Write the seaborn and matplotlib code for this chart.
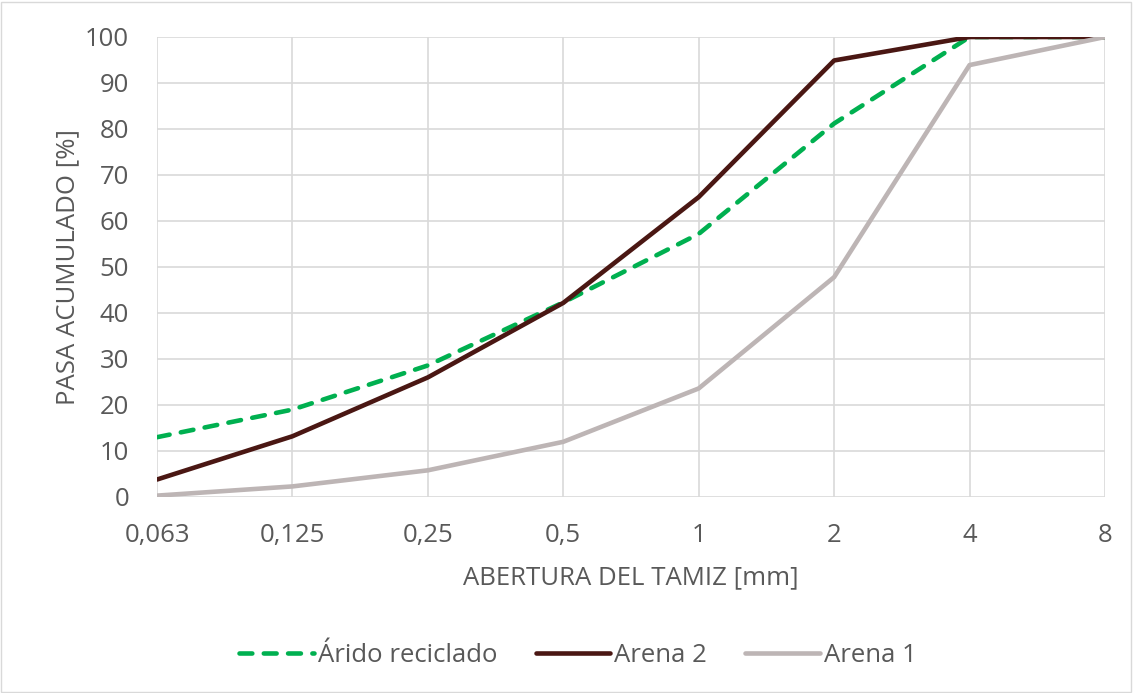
import matplotlib
matplotlib.use("Agg")
import matplotlib.pyplot as plt
import seaborn as sns
import pandas as pd
from matplotlib.patches import Rectangle

sieve_labels = ["0,063", "0,125", "0,25", "0,5", "1", "2", "4", "8"]
arido_reciclado = [13.0, 19.0, 28.6, 42.3, 57.2, 81.2, 100, 100]
arena_2 = [3.8, 13.2, 26.0, 42.2, 65.2, 94.9, 100, 100]
arena_1 = [0.3, 2.3, 5.8, 12.0, 23.6, 47.8, 93.9, 100]
series_names = ["Árido reciclado", "Arena 2", "Arena 1"]
y_ticks = list(range(0, 101, 10))

sns.set_theme(style="white")
plt.rcParams['font.family'] = ['Open Sans', 'DejaVu Sans']

FS = 18.5
TXT = "#595959"

fig = plt.figure(figsize=(11.33, 6.93), dpi=100)
ax = fig.add_axes([157/1133, 1-497/693, (1105-157)/1133, (497-37)/693])

pos = list(range(len(sieve_labels)))
colors = {"Árido reciclado": "#00b050", "Arena 2": "#4a1713", "Arena 1": "#bdb5b5"}
for name, vals in zip(series_names, [arido_reciclado, arena_2, arena_1]):
    df = pd.DataFrame({"x": pos, "y": vals})
    kw = dict(dashes=(2.8, 2.5)) if name == "Árido reciclado" else {}
    sns.lineplot(data=df, x="x", y="y", ax=ax, color=colors[name], lw=3.3,
                 label=name, solid_capstyle="round", dash_capstyle="round", **kw)

ax.set_xlim(0, len(sieve_labels) - 1)
ax.set_ylim(0, 100)
ax.set_xticks(pos)
ax.set_xticklabels(sieve_labels)
ax.set_yticks(y_ticks)
ax.grid(True, color="#d9d9d9", lw=1.2)
ax.set_axisbelow(True)
for s in ax.spines.values():
    s.set_visible(False)
ax.tick_params(axis="both", length=0, labelsize=FS, labelcolor=TXT)
ax.tick_params(axis="x", pad=19)
ax.tick_params(axis="y", pad=20)
ax.set_xlabel("ABERTURA DEL TAMIZ [mm]", fontsize=FS, color=TXT)
ax.set_ylabel("PASA ACUMULADO [%]", fontsize=FS, color=TXT)
ax.xaxis.set_label_coords(631/1133, 1-578/693, transform=fig.transFigure)
ax.yaxis.set_label_coords(68/1133, 1-267/693, transform=fig.transFigure)
ax.xaxis.label.set_va("center")
ax.yaxis.label.set_va("center")

leg = ax.legend(loc="center", bbox_to_anchor=(578/1133, 1-655/693), bbox_transform=fig.transFigure,
                ncol=3, frameon=False, fontsize=FS, handlelength=2.9, columnspacing=1.5,
                handletextpad=0.15)
for t in leg.get_texts():
    t.set_color(TXT)

fig.patches.append(Rectangle((1/1133, 1/693), 1-3/1133, 1-3/693, transform=fig.transFigure,
                             fill=False, edgecolor="#d9d9d9", lw=1.0))

fig.savefig("out.png", dpi=100)
